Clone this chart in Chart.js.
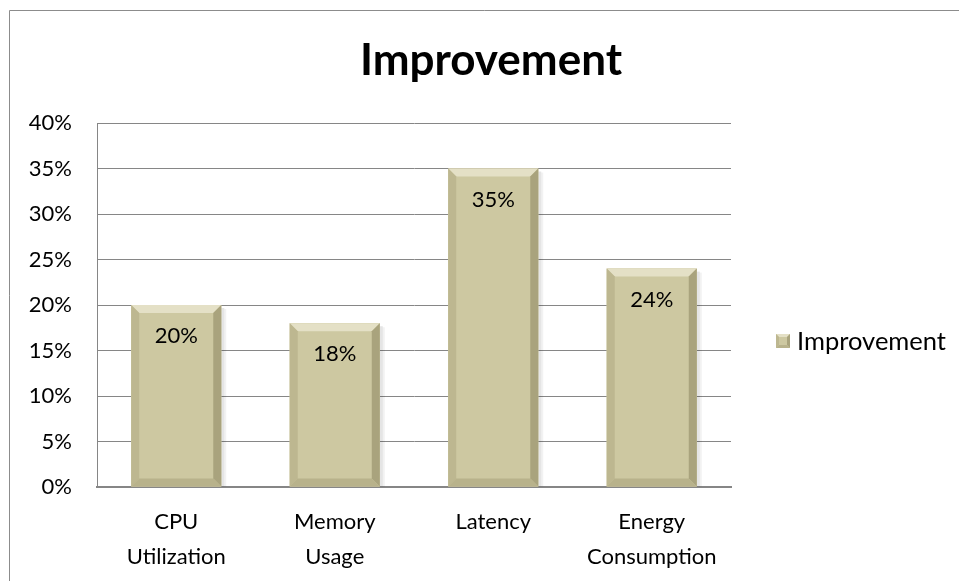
<!DOCTYPE html>
<html>
<head>
<meta charset="utf-8">
<script src="https://cdn.jsdelivr.net/npm/chart.js@4"></script>
<style>
  html, body { margin: 0; padding: 0; background: #fff; }
</style>
</head>
<body>
<canvas id="chart" width="959" height="581"></canvas>
<script>
const chartTitle = 'Improvement';
const categories = [['CPU', 'Utilization'], ['Memory', 'Usage'], ['Latency'], ['Energy', 'Consumption']];
const seriesName = 'Improvement';
const improvement = [20, 18, 35, 24];
const yMin = 0;
const yMax = 40;
const yStep = 5;

const FONT = 'Lato, Calibri, Carlito, sans-serif';
const FACE = '#cdc8a1';

// outer frame of the chart object, cut off at right and bottom
const framePlugin = {
    id: 'frame',
    beforeDraw(chart) {
        const ctx = chart.ctx;
        ctx.save();
        ctx.fillStyle = '#fff';
        ctx.fillRect(0, 0, chart.width, chart.height);
        ctx.strokeStyle = '#8c8c8c';
        ctx.lineWidth = 1;
        ctx.beginPath();
        ctx.moveTo(9.5, chart.height);
        ctx.lineTo(9.5, 10.5);
        ctx.lineTo(chart.width, 10.5);
        ctx.stroke();
        ctx.restore();
    },
    afterDraw(chart) {
        // title centred over the whole object, not just the plot
        const ctx = chart.ctx;
        ctx.save();
        ctx.fillStyle = '#000';
        ctx.font = 'bold 44px ' + FONT;
        ctx.textAlign = 'center';
        ctx.textBaseline = 'alphabetic';
        ctx.fillText(chartTitle, 491, 75);
        ctx.restore();
    }
};

function bevelRect(ctx, l, t, r, b, s, shadow) {
    if (shadow) {
        ctx.fillStyle = 'rgba(0,0,0,0.10)';
        ctx.fillRect(r, t + 3, 3, b - t - 3);
        ctx.fillStyle = 'rgba(0,0,0,0.05)';
        ctx.fillRect(r + 3, t + 4, 2, b - t - 4);
    }

    ctx.fillStyle = FACE;
    ctx.fillRect(l, t, r - l, b - t);

    // top
    ctx.fillStyle = '#e4e0c6';
    ctx.beginPath();
    ctx.moveTo(l, t); ctx.lineTo(r, t); ctx.lineTo(r - s, t + s); ctx.lineTo(l + s, t + s);
    ctx.closePath(); ctx.fill();
    // left
    ctx.fillStyle = '#bdb790';
    ctx.beginPath();
    ctx.moveTo(l, t); ctx.lineTo(l + s, t + s); ctx.lineTo(l + s, b - s); ctx.lineTo(l, b);
    ctx.closePath(); ctx.fill();
    // right
    ctx.fillStyle = '#a9a37d';
    ctx.beginPath();
    ctx.moveTo(r, t); ctx.lineTo(r, b); ctx.lineTo(r - s, b - s); ctx.lineTo(r - s, t + s);
    ctx.closePath(); ctx.fill();
    // bottom
    ctx.fillStyle = '#b8b28b';
    ctx.beginPath();
    ctx.moveTo(l, b); ctx.lineTo(l + s, b - s); ctx.lineTo(r - s, b - s); ctx.lineTo(r, b);
    ctx.closePath(); ctx.fill();
}

const bevelPlugin = {
    id: 'bevel',
    afterDatasetsDraw(chart) {
        const ctx = chart.ctx;
        const meta = chart.getDatasetMeta(0);
        ctx.save();
        meta.data.forEach((bar, i) => {
            const half = bar.width / 2;
            bevelRect(ctx, bar.x - half, bar.y, bar.x + half, bar.base, 8, true);
            ctx.fillStyle = '#000';
            ctx.font = '22px ' + FONT;
            ctx.textAlign = 'center';
            ctx.textBaseline = 'middle';
            ctx.fillText(improvement[i] + '%', bar.x, bar.y + 31);
        });
        ctx.restore();
    }
};

const legendPlugin = {
    id: 'sideLegend',
    afterDraw(chart) {
        const ctx = chart.ctx;
        ctx.save();
        bevelRect(ctx, 776, 334, 790, 348, 3, false);
        ctx.fillStyle = '#000';
        ctx.font = '25.5px ' + FONT;
        ctx.textAlign = 'left';
        ctx.textBaseline = 'middle';
        ctx.fillText(seriesName, 797, 342);
        ctx.restore();
    }
};

const ctx = document.getElementById('chart').getContext('2d');
const chart = new Chart(ctx, {
    type: 'bar',
    data: {
        labels: categories,
        datasets: [{
            label: seriesName,
            data: improvement,
            backgroundColor: FACE,
            borderWidth: 0,
            categoryPercentage: 1,
            barPercentage: 0.568
        }]
    },
    options: {
        responsive: false,
        animation: false,
        layout: { padding: { left: 9, top: 123, right: 228, bottom: 0 } },
        plugins: {
            legend: { display: false },
            tooltip: { enabled: false },
            title: { display: false }
        },
        scales: {
            x: {
                grid: { display: false, drawTicks: false },
                border: { display: true, color: '#868686', width: 2 },
                ticks: {
                    color: '#000',
                    font: { family: FONT, size: 22, lineHeight: 1.6 },
                    padding: 17,
                    maxRotation: 0,
                    autoSkip: false
                },
                afterFit: s => { s.height = 94; }
            },
            y: {
                min: yMin,
                max: yMax,
                grid: { color: '#868686', drawTicks: false },
                border: { display: true, color: '#868686', width: 1 },
                ticks: {
                    stepSize: yStep,
                    color: '#000',
                    font: { family: FONT, size: 22 },
                    padding: 25,
                    callback: v => v + '%'
                },
                afterFit: s => { s.width = 88; }
            }
        }
    },
    plugins: [framePlugin, bevelPlugin, legendPlugin]
});
</script>
</body>
</html>
